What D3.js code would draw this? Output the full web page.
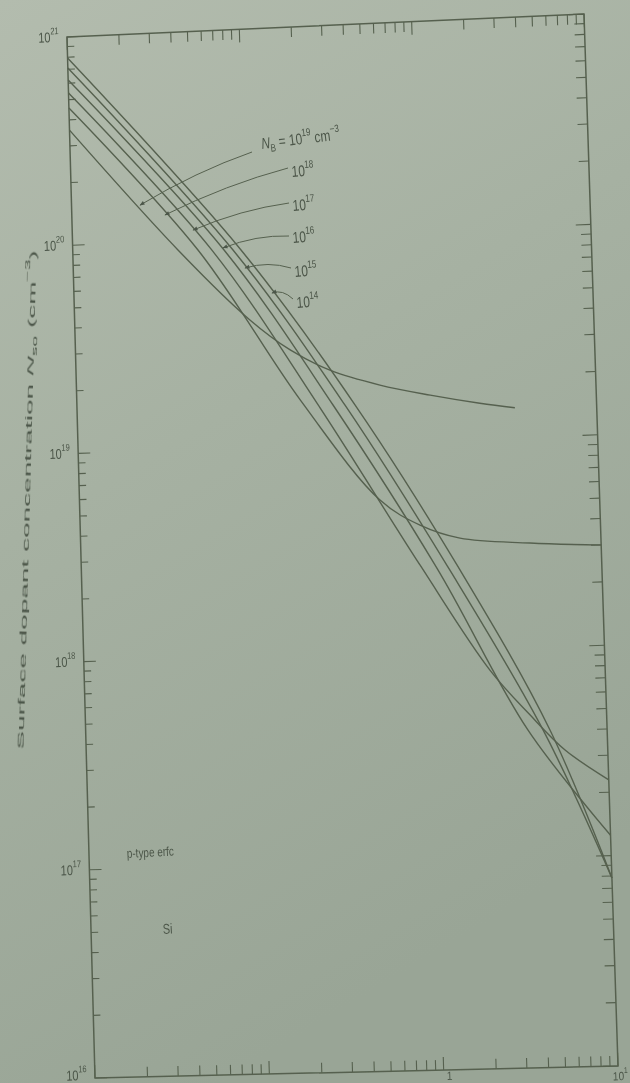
<!DOCTYPE html>
<html>
<head>
<meta charset="utf-8">
<script src="https://cdn.jsdelivr.net/npm/d3@7"></script>
<style>
  html, body { margin: 0; padding: 0; overflow: hidden; background: #a6b1a2; }
  text { font-family: "Liberation Sans", Arial, sans-serif; fill: #4c5649; }
</style>
</head>
<body>
<div id="chart"></div>
<script>
// background concentration of each curve (exponent of N_B, cm^-3)
const nbExp = ['19', '18', '17', '16', '15', '14']

// x value and surface concentration N_so (cm^-3)
const xNB19 = [0.01, 0.0406, 0.103, 0.174, 0.293, 0.566, 1.10, 2.12, 3.37]
const nNB19 = [3.57e20, 9.06e19, 4.06e19, 2.87e19, 2.26e19, 1.88e19, 1.65e19, 1.48e19, 1.39e19]
const xNB18 = [0.01, 0.053, 0.195, 0.541, 0.911, 1.54, 3.89, 10]
const nNB18 = [4.56e20, 8.97e19, 1.65e19, 5.32e18, 3.98e18, 3.40e18, 3.14e18, 2.99e18]
const xNB17 = [0.01, 0.0638, 0.247, 0.896, 2.17, 3.62, 5.68, 10]
const nNB17 = [5.38e20, 8.91e19, 1.55e19, 2.57e18, 7.92e17, 4.79e17, 3.22e17, 2.29e17]
const xNB16 = [0.01, 0.075, 0.301, 1.135, 3.50, 10]
const nNB16 = [6.21e20, 8.87e19, 1.54e19, 2.42e18, 4.06e17, 1.25e17]
const xNB15 = [0.01, 0.0845, 0.353, 1.33, 4.28, 10]
const nNB15 = [7.10e20, 8.83e19, 1.53e19, 2.40e18, 4.04e17, 7.83e16]
const xNB14 = [0.01, 0.094, 0.403, 1.52, 4.69, 10]
const nNB14 = [7.93e20, 8.81e19, 1.53e19, 2.40e18, 4.03e17, 7.83e16]

// where each leader arrow touches its curve
const leaderX = [0.0249, 0.0346, 0.050, 0.074, 0.0984, 0.1396]
const leaderN = [1.51e20, 1.34e20, 1.12e20, 9.08e19, 7.21e19, 5.41e19]

// tick labels
const yLabelValues = [1e21, 1e20, 1e19, 1e18, 1e17, 1e16]
const xLabelValues = [1, 10]

const width = 630, height = 1083

// the photo is skewed: the plot frame is a slightly warped quadrilateral
const TL = [67, 37], TR = [584, 14], BL = [95, 1078], BR = [618, 1066]
function warp(u, v) {
  return [
    (1 - u) * (1 - v) * TL[0] + u * (1 - v) * TR[0] + (1 - u) * v * BL[0] + u * v * BR[0],
    (1 - u) * (1 - v) * TL[1] + u * (1 - v) * TR[1] + (1 - u) * v * BL[1] + u * v * BR[1]
  ]
}

const x = d3.scaleLog().domain([1e-2, 1e1]).range([0, 1])
const y = d3.scaleLog().domain([1e21, 1e16]).range([0, 1])
const P = (xv, nv) => warp(x(xv), y(nv))

const curves = [
  { nb: '19', xs: xNB19, ns: nNB19 },
  { nb: '18', xs: xNB18, ns: nNB18 },
  { nb: '17', xs: xNB17, ns: nNB17 },
  { nb: '16', xs: xNB16, ns: nNB16 },
  { nb: '15', xs: xNB15, ns: nNB15 },
  { nb: '14', xs: xNB14, ns: nNB14 }
]

const svg = d3.select('#chart').append('svg')
  .attr('width', width)
  .attr('height', height)

const defs = svg.append('defs')
const grad = defs.append('linearGradient').attr('id', 'paper')
  .attr('x1', 0).attr('y1', 0).attr('x2', 0.35).attr('y2', 1)
grad.append('stop').attr('offset', 0).attr('stop-color', '#b3bcae')
grad.append('stop').attr('offset', 0.45).attr('stop-color', '#a6b1a2')
grad.append('stop').attr('offset', 1).attr('stop-color', '#99a596')
defs.append('filter').attr('id', 'soft')
  .append('feGaussianBlur').attr('stdDeviation', 0.65)
defs.append('marker').attr('id', 'arrow')
  .attr('viewBox', '0 0 10 10').attr('refX', 9).attr('refY', 5)
  .attr('markerWidth', 7).attr('markerHeight', 5)
  .attr('orient', 'auto')
  .append('path').attr('d', 'M0,1 L10,5 L0,9 Z').attr('fill', '#4c5649')

svg.append('rect').attr('width', width).attr('height', height).attr('fill', 'url(#paper)')

const g = svg.append('g').attr('filter', 'url(#soft)')
const ink = '#56614f'

// frame
g.append('path')
  .attr('d', 'M' + [TL, TR, BR, BL].map(p => p.join(',')).join('L') + 'Z')
  .attr('fill', 'none').attr('stroke', ink).attr('stroke-width', 1.5)

// ticks on all four sides, pointing inward
const isMajor = t => Math.abs(Math.log10(t) - Math.round(Math.log10(t))) < 1e-6
const ticks = []
x.ticks().forEach(t => {
  const u = x(t), len = isMajor(t) ? 13 : 10
  ticks.push([warp(u, 1), warp(u, 1 - len / 1041)])
  ticks.push([warp(u, 0), warp(u, len / 1041)])
})
y.ticks().forEach(t => {
  const v = y(t), len = isMajor(t) ? 12 : 7
  ticks.push([warp(0, v), warp(len / 517, v)])
  ticks.push([warp(1, v), warp(1 - (len + 3) / 517, v)])
})
g.append('g').selectAll('line').data(ticks).join('line')
  .attr('x1', d => d[0][0]).attr('y1', d => d[0][1])
  .attr('x2', d => d[1][0]).attr('y2', d => d[1][1])
  .attr('stroke', ink).attr('stroke-width', 1.1)

// rich text helper: parts of [text, kind]
function rich(sel, parts) {
  let shift = 0
  parts.forEach(([t, k]) => {
    const target = k === 'sup' ? -6 : k === 'sub' ? 3 : 0
    sel.append('tspan')
      .attr('dy', target - shift)
      .attr('font-size', k === 'sup' || k === 'sub' ? '0.68em' : null)
      .attr('font-style', k === 'i' ? 'italic' : null)
      .text(t)
    shift = target
  })
  return sel
}
function label(x0, y0, rot, sx, sy, size, anchor) {
  return g.append('text')
    .attr('transform', `translate(${x0},${y0}) rotate(${rot}) scale(${sx},${sy})`)
    .attr('font-size', size)
    .attr('text-anchor', anchor || 'start')
}

// y tick labels (the bottom one is kept inside the picture)
yLabelValues.forEach(t => {
  const p = warp(0, y(t))
  rich(label(p[0] - 8, Math.min(p[1] + 5, 1080), -2, 1, 1.3, 11, 'end'),
    [['10', 'n'], [String(Math.round(Math.log10(t))), 'sup']])
})
// x tick labels, just under the bottom edge
xLabelValues.forEach(t => {
  const p = warp(x(t), 1)
  const e = Math.round(Math.log10(t))
  const parts = e === 0 ? [['1', 'n']] : [['10', 'n'], [String(e), 'sup']]
  const last = t === xLabelValues[xLabelValues.length - 1]
  rich(label(last ? 628 : p[0] + 6, 1080, -2, 1, 1.2, 10, last ? 'end' : 'middle'), parts)
})

// y axis title
rich(label(30, 500, -88.5, 2.95, 1, 9.5, 'middle'),
  [['Surface dopant concentration ', 'n'], ['N', 'i'], ['so', 'sub'], [' (cm', 'n'], ['−3', 'sup'], [')', 'n']])

// curves
const line = d3.line().curve(d3.curveCatmullRom.alpha(0.5))
g.append('g').selectAll('path').data(curves).join('path')
  .attr('d', c => line(c.xs.map((xv, i) => P(xv, c.ns[i]))))
  .attr('fill', 'none').attr('stroke', ink).attr('stroke-width', 1.4)

// leader lines from the N_B labels to their curves
const leaderStart = [[252, 152], [288, 168], [289, 203], [289, 236], [291, 268], [293, 299]]
g.append('g').selectAll('path').data(nbExp).join('path')
  .attr('d', (d, i) => {
    const s = leaderStart[i], e = P(leaderX[i], leaderN[i])
    const path = d3.path()
    path.moveTo(s[0], s[1])
    path.quadraticCurveTo((s[0] + e[0]) / 2, (s[1] + e[1]) / 2 - 7, e[0], e[1])
    return path.toString()
  })
  .attr('fill', 'none').attr('stroke', ink).attr('stroke-width', 1)
  .attr('marker-end', 'url(#arrow)')

// N_B labels
rich(label(262, 149, -7, 1, 1.3, 12),
  [['N', 'i'], ['B', 'sub'], [' = 10', 'n'], [nbExp[0], 'sup'], [' cm', 'n'], ['−3', 'sup']])
const nbPos = [[292, 177], [293, 211], [293, 243], [295, 277], [297, 308]]
nbExp.slice(1).forEach((e, i) => {
  rich(label(nbPos[i][0], nbPos[i][1], -5, 1, 1.3, 12), [['10', 'n'], [e, 'sup']])
})

// notes
label(127, 858, -3, 1, 1.3, 10).text('p-type erfc')
label(163, 934, -3, 1, 1.3, 11).text('Si')
</script>
</body>
</html>
